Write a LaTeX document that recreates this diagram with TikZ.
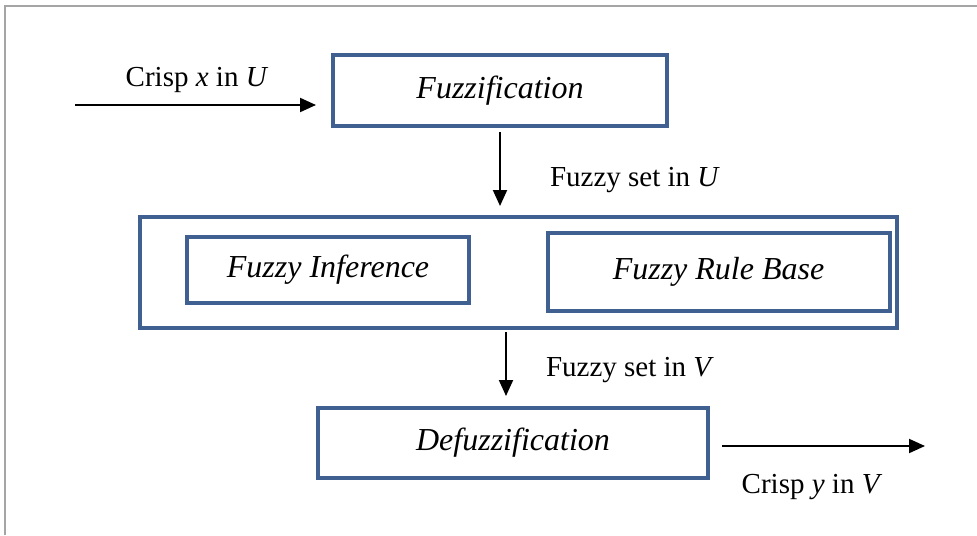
\documentclass[tikz,border=0pt]{standalone}
\usepackage{fontspec}
\setmainfont{Liberation Serif}
\usetikzlibrary{positioning}
\usetikzlibrary{arrows.meta}
\definecolor{boxblue}{RGB}{63,96,145}
\definecolor{framegray}{RGB}{165,165,165}

\begin{document}
\begin{tikzpicture}[x=0.5pt,y=-0.5pt,every node/.style={font=\fontsize{14.5}{17}\selectfont},
  block/.style={draw=boxblue,line width=2pt,inner sep=0pt,font=\fontsize{16}{19}\selectfont\itshape},
  flow/.style={-{Triangle[length=8pt,width=7pt]},line width=1pt}]
  \useasboundingbox (0,0) rectangle (977,535);
  \draw[framegray,line width=1pt] (5,535) -- (5,6) -- (977,6);

  % blocks
  \node[block,minimum width=167pt,minimum height=35.5pt] (fuzz) at (500,90.5) {Fuzzification};
  \node[block,minimum width=378.5pt,minimum height=55.5pt] (engine) at (518.5,272.5) {};
  \node[block,minimum width=141pt,minimum height=33pt] (infer) at (328,270) {Fuzzy Inference};
  \node[block,minimum width=171pt,minimum height=39pt] (rules) at (718.5,272) {Fuzzy Rule Base};
  \node[block,minimum width=195pt,minimum height=35pt] (defuzz) at (513,443) {Defuzzification};

  % entree / sortie
  \coordinate (xin) at (75,105);
  \coordinate (yout) at (925,446);
  \draw[flow,shorten >=7.5pt] (xin) -- (fuzz.west |- xin);
  \node (lblx) at (197,80) {Crisp \textit{x} in \textit{U}};
  \draw[flow,shorten <=6pt] (defuzz.east |- yout) -- (yout);
  \node (lbly) at (812,487) {Crisp \textit{y} in \textit{V}};

  % fleches verticales
  \draw[flow,shorten <=2pt,shorten >=4.5pt] (fuzz.south) -- (fuzz.south |- engine.north);
  \node[anchor=west] (lblu) at (543,180) {Fuzzy set in \textit{U}};
  \draw[flow,shorten <=1pt,shorten >=5pt] ([xshift=-6.25pt]engine.south) -- ([xshift=-6.25pt]engine.south |- defuzz.north);
  \node[anchor=west] (lblv) at (539,370) {Fuzzy set in \textit{V}};
\end{tikzpicture}
\end{document}
